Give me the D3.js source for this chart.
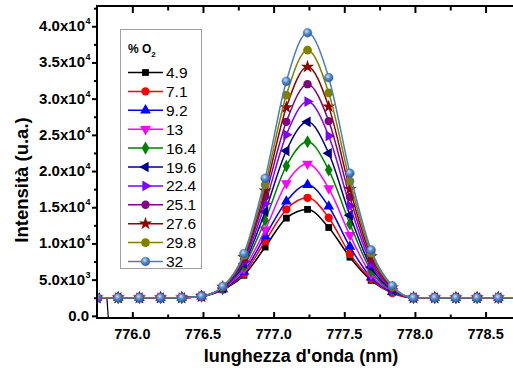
<!DOCTYPE html>
<html>
<head>
<meta charset="utf-8">
<script src="https://cdn.jsdelivr.net/npm/d3@7"></script>
<style>
  body { margin: 0; background: #fff; }
  svg { display: block; font-family: "Liberation Sans", Arial, sans-serif; }
</style>
</head>
<body>
<svg id="chart" width="513" height="374"></svg>
<script>
// wavelengths (nm), shared by all series
const wavelengths = [775.75, 775.90, 776.05, 776.20, 776.35, 776.49, 776.64, 776.79, 776.94, 777.09,
  777.24, 777.39, 777.54, 777.69, 777.84, 777.99, 778.14, 778.29, 778.44, 778.59, 778.74];

const o2Levels = ["4.9", "7.1", "9.2", "13", "16.4", "19.6", "22.4", "25.1", "27.6", "29.8", "32"];

const s4_9  = [2500, 2500, 2500, 2500, 2500, 2700, 3600, 5600,  9500, 13500, 14700, 12200,  8100, 4900, 3200, 2500, 2500, 2500, 2500, 2500, 2500];
const s7_1  = [2500, 2500, 2500, 2500, 2500, 2700, 3650, 5800, 10300, 14700, 16300, 13550,  8550, 5100, 3150, 2500, 2500, 2500, 2500, 2500, 2500];
const s9_2  = [2500, 2500, 2500, 2500, 2500, 2700, 3700, 6100, 11000, 15800, 18100, 15100,  9550, 5300, 3300, 2500, 2500, 2500, 2500, 2500, 2500];
const s13   = [2500, 2500, 2500, 2500, 2500, 2700, 3750, 6500, 11900, 18300, 21000, 17600, 11150, 5700, 3400, 2500, 2500, 2500, 2500, 2500, 2500];
const s16_4 = [2500, 2500, 2500, 2500, 2500, 2700, 3800, 6900, 13200, 20700, 24050, 20150, 12700, 6200, 3500, 2500, 2500, 2500, 2500, 2500, 2500];
const s19_6 = [2500, 2500, 2500, 2500, 2500, 2700, 3850, 7200, 14400, 22800, 26800, 22450, 13900, 6700, 3600, 2500, 2500, 2500, 2500, 2500, 2500];
const s22_4 = [2500, 2500, 2500, 2500, 2500, 2700, 3900, 7500, 15500, 25000, 29600, 24850, 15200, 7200, 3700, 2500, 2500, 2500, 2500, 2500, 2500];
const s25_1 = [2500, 2500, 2500, 2500, 2500, 2700, 3950, 7800, 16500, 26800, 32000, 26900, 16400, 7700, 3800, 2500, 2500, 2500, 2500, 2500, 2500];
const s27_6 = [2500, 2500, 2500, 2500, 2500, 2700, 4000, 8100, 17300, 28800, 34400, 28900, 17500, 8200, 3900, 2500, 2500, 2500, 2500, 2500, 2500];
const s29_8 = [2500, 2500, 2500, 2500, 2500, 2700, 4000, 8350, 18100, 30500, 36700, 30800, 18600, 8650, 4000, 2500, 2500, 2500, 2500, 2500, 2500];
const s32   = [2500, 2500, 2500, 2500, 2500, 2700, 4050, 8600, 19000, 32400, 39100, 32900, 19700, 9100, 4150, 2500, 2500, 2500, 2500, 2500, 2500];

// stray segment of the 4.9 % trace near the left edge
const glitch4_9 = [[775.82, 2500], [775.84, -3000]];

const yTicks = [0, 5000, 10000, 15000, 20000, 25000, 30000, 35000, 40000];
const yTickLabels = ["0.0", "5.0x10|3", "1.0x10|4", "1.5x10|4", "2.0x10|4", "2.5x10|4", "3.0x10|4", "3.5x10|4", "4.0x10|4"];
const xTicks = [776.0, 776.5, 777.0, 777.5, 778.0, 778.5];

const seriesValues = [s4_9, s7_1, s9_2, s13, s16_4, s19_6, s22_4, s25_1, s27_6, s29_8, s32];
const colors = ["#000000", "#ff0000", "#0000ff", "#ff00ff", "#008000", "#000080", "#8000ff", "#800080", "#8b0000", "#808000", "#4a7ebb"];
const shapes = [
  {type: d3.symbolSquare, rot: 0, size: 46},
  {type: d3.symbolCircle, rot: 0, size: 55},
  {type: d3.symbolTriangle, rot: 0, size: 50},
  {type: d3.symbolTriangle, rot: 180, size: 50},
  {type: d3.symbolDiamond, rot: 0, size: 50},
  {type: d3.symbolTriangle, rot: -90, size: 50},
  {type: d3.symbolTriangle, rot: 90, size: 50},
  {type: d3.symbolCircle, rot: 0, size: 55},
  {type: d3.symbolStar, rot: 0, size: 55},
  {type: d3.symbolCircle, rot: 0, size: 60},
  {type: d3.symbolCircle, rot: 0, size: 60}
];

const svg = d3.select("#chart");
const plotLeft = 97, plotTop = 6, plotBottom = 318;

const x = d3.scaleLinear().domain([775.75, 778.8]).range([plotLeft, plotLeft + 3.05 * 141.3]);
const y = d3.scaleLinear().domain([-300, 42800]).range([plotBottom, plotTop]);

const defs = svg.append("defs");
defs.append("clipPath").attr("id", "plotclip")
  .append("rect").attr("x", plotLeft).attr("y", plotTop).attr("width", 513 - plotLeft).attr("height", plotBottom - plotTop);

const grad = defs.append("radialGradient").attr("id", "ball")
  .attr("cx", "40%").attr("cy", "35%").attr("r", "65%");
grad.append("stop").attr("offset", "0%").attr("stop-color", "#cfe2f7");
grad.append("stop").attr("offset", "45%").attr("stop-color", "#5b8fd0");
grad.append("stop").attr("offset", "100%").attr("stop-color", "#2c5a98");

const fillFor = i => i === 10 ? "url(#ball)" : colors[i];

const line = d3.line()
  .x(d => x(d[0]))
  .y(d => y(d[1]))
  .curve(d3.curveMonotoneX);

const plot = svg.append("g").attr("clip-path", "url(#plotclip)");

plot.append("path")
  .attr("d", d3.line().x(d => x(d[0])).y(d => y(d[1]))(glitch4_9))
  .attr("fill", "none").attr("stroke", "#000").attr("stroke-width", 1.2);

seriesValues.forEach((vals, i) => {
  const pts = wavelengths.map((w, k) => [w, vals[k]]);
  plot.append("path")
    .attr("d", line(pts))
    .attr("fill", "none")
    .attr("stroke", colors[i])
    .attr("stroke-width", 1.5);
  const sym = d3.symbol().type(shapes[i].type).size(shapes[i].size);
  plot.selectAll(null).data(pts).join("path")
    .attr("d", sym)
    .attr("transform", d => `translate(${x(d[0])},${y(d[1])}) rotate(${shapes[i].rot})`)
    .attr("fill", fillFor(i))
    .attr("stroke", i === 10 ? "#3a6aa8" : "none")
    .attr("stroke-width", 0.5);
});

// axes
const axisG = svg.append("g").attr("font-weight", "bold").attr("fill", "#000");

const xBottom = d3.axisBottom(x).tickValues(d3.range(776.0, 778.8, 0.25)).tickSize(-6).tickFormat("");
axisG.append("g").attr("transform", `translate(0,${plotBottom})`).call(xBottom)
  .call(g => g.select(".domain").remove())
  .call(g => g.selectAll(".tick line").attr("stroke-width", 2)
    .attr("y2", (d) => (Math.round(d * 4) % 2 === 0) ? -6 : -3.5));

const xTop = d3.axisTop(x).tickValues(d3.range(776.0, 778.8, 0.25)).tickSize(-6).tickFormat("");
axisG.append("g").attr("transform", `translate(0,${plotTop})`).call(xTop)
  .call(g => g.select(".domain").remove())
  .call(g => g.selectAll(".tick line").attr("stroke-width", 2)
    .attr("y2", (d) => (Math.round(d * 4) % 2 === 0) ? 7 : 4.5));

axisG.selectAll("text.xl").data(xTicks).join("text")
  .attr("class", "xl")
  .attr("x", d => x(d)).attr("y", 339)
  .attr("text-anchor", "middle")
  .attr("font-size", 14.5)
  .text(d => d.toFixed(1));

const yMinor = d3.range(2500, 42800, 5000);
const yAxis = d3.axisLeft(y).tickValues(yTicks.concat(yMinor)).tickSize(5).tickFormat("");
axisG.append("g").attr("transform", `translate(${plotLeft},0)`).call(yAxis)
  .call(g => g.select(".domain").remove())
  .call(g => g.selectAll(".tick line").attr("stroke-width", 2)
    .attr("x2", d => (d % 5000 === 0) ? -5 : -3));

yTicks.forEach((v, i) => {
  const parts = yTickLabels[i].split("|");
  axisG.append("text")
    .attr("x", parts.length > 1 ? 85 : 89)
    .attr("y", y(v) + 5)
    .attr("text-anchor", "end")
    .attr("font-size", 15)
    .text(parts[0]);
  if (parts.length > 1) {
    axisG.append("text")
      .attr("x", 85.5).attr("y", y(v) - 2)
      .attr("font-size", 9)
      .text(parts[1]);
  }
});

// frame
svg.append("path")
  .attr("d", `M513,${plotTop}H${plotLeft}V${plotBottom}H513`)
  .attr("fill", "none").attr("stroke", "#000").attr("stroke-width", 2);

// axis titles
svg.append("text")
  .attr("transform", "translate(28,180) rotate(-90)")
  .attr("text-anchor", "middle")
  .attr("font-weight", "bold").attr("font-size", 18.5)
  .text("Intensità (u.a.)");

svg.append("text")
  .attr("x", 301).attr("y", 362)
  .attr("text-anchor", "middle")
  .attr("font-weight", "bold").attr("font-size", 18)
  .text("lunghezza d'onda (nm)");

// legend
const legend = svg.append("g");
legend.append("rect")
  .attr("x", 120.5).attr("y", 29.5).attr("width", 81).attr("height", 239)
  .attr("fill", "#fff").attr("stroke", "#a0a0a0").attr("stroke-width", 1);

const lt = legend.append("text").attr("x", 128).attr("y", 53)
  .attr("font-weight", "bold").attr("font-size", 12);
lt.append("tspan").text("% O");
lt.append("tspan").attr("dy", 4).attr("font-size", 8).text("2");

o2Levels.forEach((lab, i) => {
  const cy = 72.5 + 18.9 * i;
  legend.append("line")
    .attr("x1", 128).attr("x2", 163).attr("y1", cy).attr("y2", cy)
    .attr("stroke", colors[i]).attr("stroke-width", 1.5);
  legend.append("path")
    .attr("d", d3.symbol().type(shapes[i].type).size(shapes[i].size)())
    .attr("transform", `translate(145.5,${cy}) rotate(${shapes[i].rot})`)
    .attr("fill", fillFor(i))
    .attr("stroke", i === 10 ? "#3a6aa8" : "none").attr("stroke-width", 0.5);
  legend.append("text")
    .attr("x", 166).attr("y", cy + 5.5)
    .attr("font-size", 15.5)
    .text(lab);
});
</script>
</body>
</html>
